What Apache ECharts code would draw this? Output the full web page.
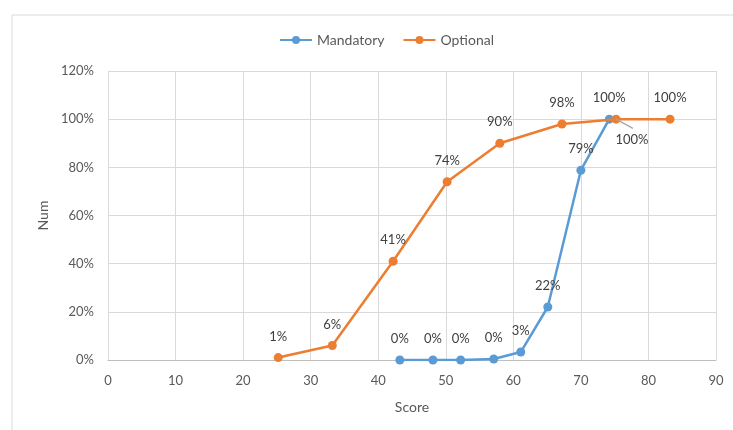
<!DOCTYPE html>
<html>
<head>
<meta charset="utf-8">
<script src="https://cdn.jsdelivr.net/npm/echarts@6/dist/echarts.min.js"></script>
<style>
  html, body { margin: 0; padding: 0; background: #fff; }
  #main { width: 733px; height: 430px; }
</style>
</head>
<body>
<div id="main"></div>
<script>
// score / cumulative percent
var mandScore = [43.2, 48.1, 52.2, 57.1, 61.1, 65.1, 70.0, 74.2];
var mandPct = [0, 0, 0, 0.4, 3.3, 22, 78.8, 100];
var optScore = [25.2, 33.2, 42.2, 50.2, 58.0, 67.2, 75.2, 83.2];
var optPct = [1, 6, 41, 74, 90, 98, 100, 100];

function pairs(xs, ys) {
  return xs.map(function (x, i) { return [x, ys[i]]; });
}

var fontName = 'Lato';
var movedIdx = 6; // 这个点的标签被挪到右下
var myChart = echarts.init(document.getElementById('main'));

var option = {
  backgroundColor: '#fff',
  textStyle: { fontFamily: fontName },
  color: ['#5B9BD5', '#ED7D31'],
  graphic: [{
    type: 'rect',
    shape: { x: 12, y: 15, width: 740, height: 430 },
    style: { fill: 'none', stroke: '#d9d9d9', lineWidth: 1 },
    silent: true
  }],
  legend: {
    top: 28,
    left: 274,
    itemWidth: 32,
    itemHeight: 10,
    itemGap: 18,
    textStyle: { fontSize: 14, color: '#595959', fontFamily: fontName },
    data: ['Mandatory', 'Optional']
  },
  grid: { left: 108, right: 17, top: 71, bottom: 70 },
  xAxis: {
    type: 'value',
    min: 0, max: 90, interval: 10,
    name: 'Score',
    nameLocation: 'middle',
    nameGap: 40,
    nameTextStyle: { fontSize: 14, color: '#595959' },
    axisLine: { show: true, lineStyle: { color: '#bfbfbf' } },
    axisTick: { show: false },
    axisLabel: { fontSize: 13, color: '#595959', margin: 14 },
    splitLine: { show: true, lineStyle: { color: '#d9d9d9' } }
  },
  yAxis: {
    type: 'value',
    min: 0, max: 120, interval: 20,
    name: 'Num',
    nameLocation: 'middle',
    nameGap: 54,
    nameTextStyle: { fontSize: 14, color: '#595959' },
    axisLine: { show: false },
    axisTick: { show: false },
    axisLabel: { fontSize: 13, color: '#595959', margin: 14, formatter: '{value}%' },
    splitLine: { show: true, lineStyle: { color: '#d9d9d9' } }
  },
  series: [
    {
      name: 'Mandatory',
      type: 'line',
      data: pairs(mandScore, mandPct),
      symbol: 'circle',
      symbolSize: 9,
      lineStyle: { width: 2.5 },
      label: {
        show: true, position: 'top', distance: 10,
        fontSize: 13, color: '#404040',
        formatter: function (p) { return Math.round(p.value[1]) + '%'; }
      },
      z: 3
    },
    {
      name: 'Optional',
      type: 'line',
      data: pairs(optScore, optPct),
      symbol: 'circle',
      symbolSize: 9,
      lineStyle: { width: 2.5 },
      label: {
        show: true, position: 'top', distance: 10,
        fontSize: 13, color: '#404040',
        formatter: function (p) { return Math.round(p.value[1]) + '%'; }
      },
      labelLayout: function (params) {
        if (params.dataIndex === movedIdx) {
          return { dx: 16, dy: 42 };
        }
        return {};
      },
      // 引导线
      markLine: {
        silent: true,
        symbol: 'none',
        label: { show: false },
        lineStyle: { color: '#a6a6a6', width: 1.3, type: 'solid' },
        data: [[
          { coord: [optScore[movedIdx], optPct[movedIdx]] },
          { coord: [optScore[movedIdx] + 2.5, optPct[movedIdx] - 3.8] }
        ]]
      },
      z: 4
    }
  ]
};

myChart.setOption(option);
</script>
</body>
</html>
